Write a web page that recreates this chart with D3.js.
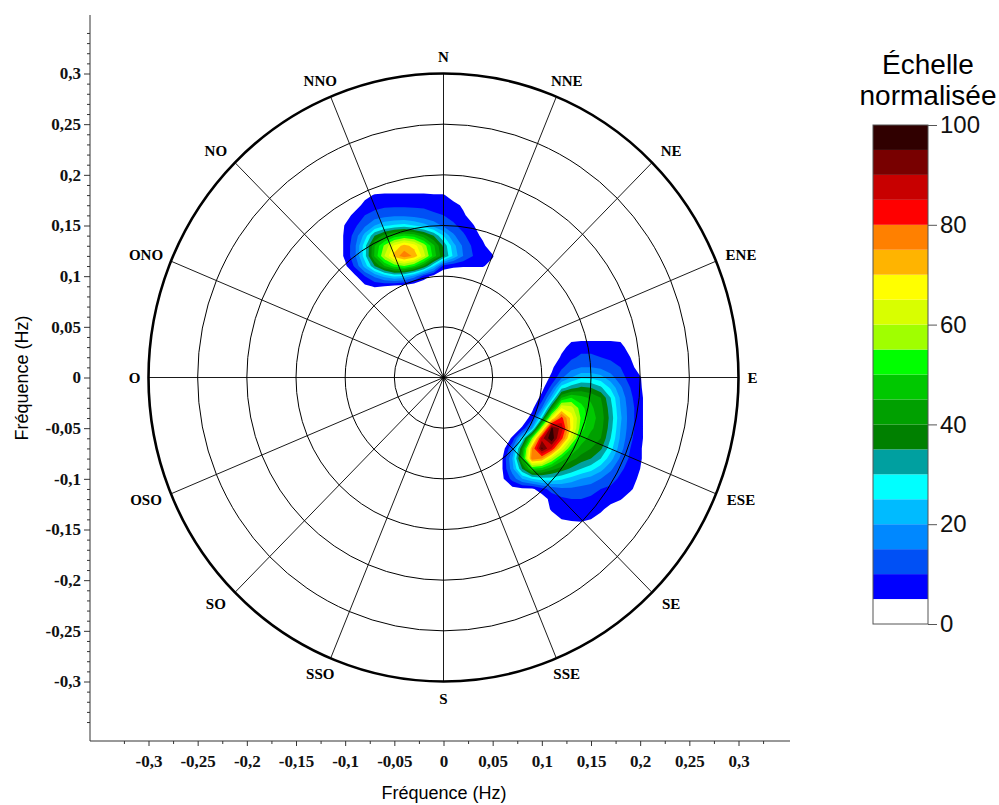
<!DOCTYPE html>
<html><head><meta charset="utf-8">
<script src="https://cdn.jsdelivr.net/npm/d3@7"></script>
<style>body{margin:0;background:#fff}</style>
</head><body><svg id="c" width="999" height="805"></svg>
<script>
// ---------- data ----------
const compassLabels = ["N","NNE","NE","ENE","E","ESE","SE","SSE","S","SSO","SO","OSO","O","ONO","NO","NNO"];
const ringRadii = [0.05, 0.1, 0.15, 0.2, 0.25, 0.3];
const axisMajorTicks = [-0.3, -0.25, -0.2, -0.15, -0.1, -0.05, 0, 0.05, 0.1, 0.15, 0.2, 0.25, 0.3];
const colorbarTicks = [0, 20, 40, 60, 80, 100];
const bandThresholds = [0,5,10,15,20,25,30,35,40,45,50,55,60,65,70,75,80,85,90,95];
const bandColors = ["#ffffff","#0000ff","#0050f5","#0088ff","#00bbff","#00ffff","#00a0a0","#008000","#00a000","#00c800",
                    "#00ff00","#a0ff00","#d8ff00","#ffff00","#ffb400","#ff8000","#ff0000","#c80000","#780000","#300000"];
const gridStep = 0.01;
// ESE spectrum peak: columns x = 0.05 .. 0.21, rows y = 0.05 .. -0.15
const eseX0 = 0.05, eseY0 = 0.05;
const eseGrid = [
 [0,0,0,0,0,0,0,0,0,0,0,0,0,0,0,0,0],
 [0,0,0,0,0,0,0,0,3,3,3,3,3,3,0,0,0],
 [0,0,0,0,0,0,0,3,7,8,8,8,8,7,2,0,0],
 [0,0,0,0,0,0,0,6,9,11,11,10,9,8,5,0,0],
 [0,0,0,0,0,0,4,9,13,15,15,14,12,10,7,2,0],
 [0,0,0,0,0,2,6,14,20,24,24,22,17,12,8,5.5,0],
 [0,0,0,0,0,3,12,28,33,36,35,31,24,16,10,6,0],
 [0,0,0,0,0,7,22,45,50,47,44,40,30,19,11,7,0],
 [0,0,0,0,3,15,40,65,62,52,46,42,32,20,12,7,0],
 [0,0,0,0,8,30,65,82,68,54,47,43,33,21,12,7,0],
 [0,0,0,6,20,60,96,88,68,52,46,42,32,20,12,7,0],
 [0,0,6,25,55,88,99,82,62,48,43,40,30,19,11,7,0],
 [0,2,15,40,75,96,85,65,50,43,40,36,27,17,10,6,0],
 [0,5,20,45,78,75,60,48,42,38,35,30,22,14,9,6,0],
 [0,5,18,35,50,48,42,38,34,30,27,22,16,11,8,5,0],
 [0,4,12,20,25,28,28,26,23,20,18,15,12,9,7,4,0],
 [0,0,3,4,4,8,12,14,14,13,12,10,9,7,6,2,0],
 [0,0,0,0,0,2,7,9,10,10,9,8,7,5.5,2,0,0],
 [0,0,0,0,0,0,6,7,8,8,7,6,3,0,0,0,0],
 [0,0,0,0,0,0,1,5,6,6.5,5,3,0,0,0,0,0],
 [0,0,0,0,0,0,0,0,0,0,0,0,0,0,0,0,0]
];
// NNO spectrum peak: columns x = -0.11 .. 0.06, rows y = 0.20 .. 0.08
const nnoX0 = -0.11, nnoY0 = 0.20;
const nnoGrid = [
 [0,0,0,0,0,0,0,0,0,0,0,0,0,0,0,0,0,0],
 [0,0,0,0,0,0,0,0,0,0,0,0,0,0,0,0,0,0],
 [0,0,0,3,5.5,6,6,6,6,6,5.5,5.5,2,0,0,0,0,0],
 [0,0,2,7,8,9,9,9,9,9,8,8,7,4,0,0,0,0],
 [0,2,7,10,12,13,14,14,13,12,11,10,8,6,2,0,0,0],
 [0,5.5,9,14,20,24,26,27,25,22,18,14,11,8,5.5,1,0,0],
 [1,6,12,22,35,42,47,50,48,42,35,25,16,11,7,4,0,0],
 [1,6,14,28,45,56,66,72,68,58,46,34,22,14,9,6,2,0],
 [1,6,14,28,46,60,72,78,74,62,48,36,24,15,10,7,5.5,0],
 [0,4,11,22,35,45,52,55,50,40,25,8,6,5.5,5.5,5.5,3,0],
 [0,0,4,10,16,22,26,24,18,8,3,0,0,0,0,0,0,0],
 [0,0,0,4,5.5,5,3,2,0,0,0,0,0,0,0,0,0,0],
 [0,0,0,0,0,0,0,0,0,0,0,0,0,0,0,0,0,0]
];

// ---------- drawing ----------
const svg = d3.select("#c");
svg.append("rect").attr("width", 999).attr("height", 805).attr("fill", "#fff");
const x = d3.scaleLinear().domain([-0.3, 0.3]).range([148.5, 738.5]);
const y = d3.scaleLinear().domain([-0.3, 0.3]).range([681.5, 73.5]);
const fmt = v => String(+v.toFixed(3)).replace(".", ",");
const serif = "'Liberation Serif','Times New Roman',serif";
const sans = "'Liberation Sans',Arial,sans-serif";

function drawSpectrum(grid, x0, y0) {
  const ny = grid.length, nx = grid[0].length;
  const values = grid.flat();
  const contours = d3.contours().size([nx, ny]).thresholds(bandThresholds.slice(1))(values);
  const proj = d3.geoTransform({
    point: function(gx, gy) {
      this.stream.point(x(x0 + (gx - 0.5) * gridStep), y(y0 - (gy - 0.5) * gridStep));
    }
  });
  const path = d3.geoPath(proj);
  svg.append("g").selectAll("path").data(contours).join("path")
    .attr("d", path)
    .attr("fill", d => bandColors[bandThresholds.indexOf(d.value)]);
}
drawSpectrum(eseGrid, eseX0, eseY0);
drawSpectrum(nnoGrid, nnoX0, nnoY0);

// polar grid
const cx = x(0), cy = y(0);
const polar = svg.append("g");
polar.selectAll("line").data(compassLabels).join("line")
  .attr("x1", cx).attr("y1", cy)
  .attr("x2", (d, i) => x(0.3 * Math.sin(i * Math.PI / 8)))
  .attr("y2", (d, i) => y(0.3 * Math.cos(i * Math.PI / 8)))
  .attr("stroke", "#000").attr("stroke-width", 0.9);
polar.selectAll("ellipse").data(ringRadii).join("ellipse")
  .attr("cx", cx).attr("cy", cy)
  .attr("rx", r => x(r) - cx).attr("ry", r => cy - y(r))
  .attr("fill", "none").attr("stroke", "#000")
  .attr("stroke-width", r => r === 0.3 ? 2.6 : 1);
polar.selectAll("text").data(compassLabels).join("text")
  .attr("x", (d, i) => {
    const s = Math.sin(i * Math.PI / 8);
    const R = Math.abs(s) > 0.99 ? 309 : 322;
    return cx + R * s;
  })
  .attr("y", (d, i) => {
    const c = Math.cos(i * Math.PI / 8);
    return cy - 321 * c;
  })
  .attr("text-anchor", "middle").attr("dominant-baseline", "central")
  .attr("font-family", serif).attr("font-weight", "bold").attr("font-size", 15)
  .text(d => d);

// axes
const yMinor = d3.range(-35, 36).filter(v => v % 5 !== 0).map(v => v / 100);
const xMinor = d3.range(-14, 15).filter(v => v % 2 !== 0).map(v => v * 0.025);
const gy = svg.append("g").attr("transform", "translate(90,0)");
gy.call(d3.axisLeft(y).tickValues(axisMajorTicks).tickSize(6).tickPadding(3).tickFormat(fmt));
gy.append("g").call(d3.axisLeft(y).tickValues(yMinor).tickSize(3).tickFormat(""));
gy.selectAll(".domain").remove();
gy.append("line").attr("x1", 0).attr("x2", 0).attr("y1", 15).attr("y2", 741).attr("stroke", "#333");
const gx = svg.append("g").attr("transform", "translate(0,741)");
gx.call(d3.axisBottom(x).tickValues(axisMajorTicks).tickSize(5).tickPadding(9).tickFormat(fmt));
gx.append("g").call(d3.axisBottom(x).tickValues(xMinor).tickSize(3).tickFormat(""));
gx.selectAll(".domain").remove();
gx.append("line").attr("x1", 90).attr("x2", 790).attr("y1", 0).attr("y2", 0).attr("stroke", "#333");
svg.selectAll(".tick line").attr("stroke", "#333");
[gx, gy].forEach(g => g.selectAll(".tick text")
  .attr("font-family", serif).attr("font-weight", "bold").attr("font-size", 17).attr("fill", "#111"));

svg.append("text").attr("x", 444).attr("y", 799).attr("text-anchor", "middle")
  .attr("font-family", sans).attr("font-size", 18).text("Fréquence (Hz)");
svg.append("text").attr("transform", "translate(28,378) rotate(-90)").attr("text-anchor", "middle")
  .attr("font-family", sans).attr("font-size", 18).text("Fréquence (Hz)");

// colour bar
const cb = d3.scaleLinear().domain([0, 100]).range([624, 125]);
const cbg = svg.append("g");
cbg.selectAll("rect").data(bandThresholds).join("rect")
  .attr("x", 873).attr("width", 55)
  .attr("y", t => cb(t + 5)).attr("height", t => cb(t) - cb(t + 5))
  .attr("fill", (t, i) => bandColors[i]);
cbg.append("rect").attr("x", 873).attr("y", 125).attr("width", 55).attr("height", 499)
  .attr("fill", "none").attr("stroke", "#555").attr("stroke-width", 1);
const cba = svg.append("g").attr("transform", "translate(928,0)")
  .call(d3.axisRight(cb).tickValues(colorbarTicks).tickSize(9).tickPadding(3));
cba.selectAll(".domain").remove();
cba.selectAll(".tick line").attr("stroke", "#555");
cba.selectAll(".tick text").attr("font-family", sans).attr("font-size", 24).attr("fill", "#111");
svg.append("text").attr("x", 928).attr("y", 74).attr("text-anchor", "middle")
  .attr("font-family", sans).attr("font-size", 28).text("Échelle");
svg.append("text").attr("x", 928).attr("y", 105).attr("text-anchor", "middle")
  .attr("font-family", sans).attr("font-size", 28).text("normalisée");
</script></body></html>
